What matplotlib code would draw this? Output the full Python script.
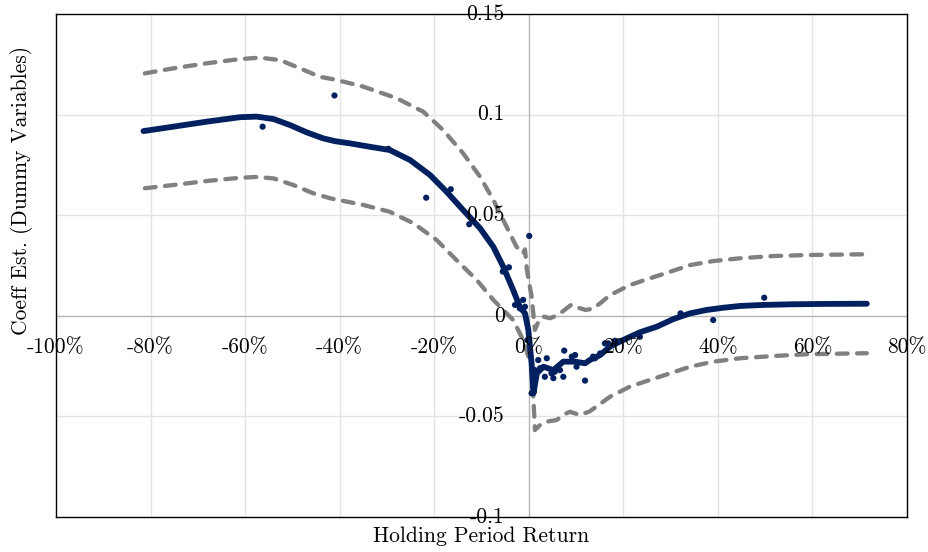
import matplotlib
matplotlib.use("Agg")
import matplotlib.pyplot as plt
from matplotlib.transforms import offset_copy

# ---- data (x in %, y = coefficient estimate) ----
fit_x = [-81.5, -75.2, -68.1, -61.1, -57.6, -54.0, -50.5, -47.0, -43.5, -41.0, -37.8,
         -33.6, -29.4, -25.1, -20.9, -17.4, -13.9, -10.3, -7.5, -5.4, -3.3, -1.9, -0.8,
         -0.1, 0.6, 1.0, 1.7, 3.1, 5.2, 7.3, 9.8, 11.9, 12.9, 15.1, 17.2, 20.0, 23.5,
         27.1, 30.6, 34.1, 37.6, 41.1, 44.7, 49.6, 55.2, 62.3, 71.5]
fit_y = [0.0918, 0.0940, 0.0965, 0.0987, 0.0990, 0.0978, 0.0948, 0.0912, 0.0882, 0.0868,
         0.0857, 0.0840, 0.0824, 0.0774, 0.0700, 0.0617, 0.0526, 0.0435, 0.0343, 0.0244,
         0.0128, 0.0045, 0.0012, -0.0070, -0.0236, -0.0385, -0.0286, -0.0253, -0.0270,
         -0.0228, -0.0228, -0.0236, -0.0220, -0.0195, -0.0153, -0.0120, -0.0082, -0.0054,
         -0.0016, 0.0012, 0.0029, 0.0040, 0.0049, 0.0054, 0.0057, 0.0059, 0.0060]

up_x = [-81.2, -75.2, -68.1, -61.1, -56.9, -52.6, -48.4, -44.2, -40.6, -35.0, -27.9,
        -22.3, -18.1, -13.9, -10.3, -7.5, -4.7, -2.6, -1.9, -1.2, -0.8, -0.4, 0.6, 1.3,
        2.2, 3.1, 4.5, 6.2, 8.0, 9.0, 10.5, 12.0, 13.5, 15.1, 17.2, 21.4, 25.6, 29.9,
        34.1, 39.0, 44.7, 51.7, 58.8, 71.5]
up_y = [0.1205, 0.1230, 0.1255, 0.1276, 0.1283, 0.1271, 0.1230, 0.1188, 0.1172, 0.1139,
        0.1081, 0.1014, 0.0923, 0.0808, 0.0691, 0.0576, 0.0443, 0.0343, 0.0327, 0.0310,
        0.0330, 0.0228, 0.0095, -0.0070, -0.0020, -0.0004, -0.0012, 0.0004, 0.0037,
        0.0055, 0.0040, 0.0029, 0.0035, 0.0062, 0.0103, 0.0153, 0.0186, 0.0219, 0.0252,
        0.0272, 0.0286, 0.0297, 0.0302, 0.0306]

lo_x = [-81.2, -75.2, -68.1, -61.1, -57.6, -54.0, -49.8, -45.6, -42.0, -35.0, -29.4,
        -24.4, -19.5, -15.3, -11.0, -7.5, -3.3, -1.2, 0.6, 1.0, 1.3, 2.5, 3.8, 5.9, 7.5,
        8.7, 10.8, 12.9, 17.2, 21.4, 25.6, 29.9, 34.1, 39.0, 44.7, 51.7, 58.8, 71.5]
lo_y = [0.0634, 0.0650, 0.0670, 0.0686, 0.0690, 0.0683, 0.0650, 0.0609, 0.0584, 0.0551,
        0.0517, 0.0460, 0.0377, 0.0277, 0.0178, 0.0079, -0.0021, -0.0120, -0.0253, -0.0418,
        -0.0568, -0.0540, -0.0526, -0.0518, -0.0490, -0.0477, -0.0493, -0.0475, -0.0402,
        -0.0352, -0.0319, -0.0286, -0.0253, -0.0228, -0.0211, -0.0200, -0.0191, -0.0186]

sc_x = [-56.3, -41.1, -29.7, -21.7, -16.5, -12.6, -5.5, -4.2, -2.9, -1.9, -1.2, -0.8,
        -0.3, 0.1, 0.6, 1.0, 1.3, 2.0, 2.4, 3.4, 3.8, 4.8, 5.2, 5.5, 6.6, 7.3, 7.5, 9.1,
        9.8, 10.1, 11.9, 13.6, 14.0, 15.1, 16.1, 16.8, 18.2, 23.5, 32.1, 39.0, 49.8]
sc_y = [0.0940, 0.1095, 0.0830, 0.0587, 0.0629, 0.0455, 0.0220, 0.0241, 0.0054, 0.0037,
        0.0079, 0.0045, -0.0120, 0.0397, -0.0385, -0.0352, -0.0270, -0.0220, -0.0260,
        -0.0303, -0.0211, -0.0286, -0.0310, -0.0278, -0.0270, -0.0303, -0.0173, -0.0203,
        -0.0195, -0.0253, -0.0322, -0.0203, -0.0211, -0.0187, -0.0137, -0.0137, -0.0124,
        -0.0104, 0.0012, -0.0021, 0.0090]

x_ticks = [-100, -80, -60, -40, -20, 0, 20, 40, 60, 80]
x_tick_labels = ["-100%", "-80%", "-60%", "-40%", "-20%", "0%", "20%", "40%", "60%", "80%"]
y_ticks = [-0.1, -0.05, 0, 0.05, 0.1, 0.15]
y_tick_labels = ["-0.1", "-0.05", "0", "0.05", "0.1", "0.15"]

NAVY = "#002060"
GRAY = "#808080"
FONT = "cmr10"
FS = 15.5

fig = plt.figure(figsize=(9.29, 5.52), dpi=100)
ax = fig.add_axes([56 / 929, 1 - 517 / 552, 851 / 929, 503 / 552])
ax.set_xlim(-100, 80)
ax.set_ylim(-0.1, 0.15)

# grid
for xv in x_ticks[1:-1]:
    if xv != 0:
        ax.axvline(xv, color="#e3e3e3", lw=1.0, zorder=0)
for yv in y_ticks[1:-1]:
    if yv != 0:
        ax.axhline(yv, color="#e3e3e3", lw=1.0, zorder=0)
ax.axvline(0, color="#b5b5b5", lw=1.0, zorder=1)
ax.axhline(0, color="#b5b5b5", lw=1.0, zorder=1)

ax.set_xticks([])
ax.set_yticks([])
for s in ax.spines.values():
    s.set_linewidth(1.0)
    s.set_color("black")

# series
ax.plot(up_x, up_y, color=GRAY, lw=3.1, dashes=(2.5, 2.2), dash_capstyle="round",
        dash_joinstyle="round", zorder=2)
ax.plot(lo_x, lo_y, color=GRAY, lw=3.1, dashes=(2.5, 2.2), dash_capstyle="round",
        dash_joinstyle="round", zorder=2)
ax.plot(fit_x, fit_y, color=NAVY, lw=4.2, solid_capstyle="round",
        solid_joinstyle="round", zorder=3)
ax.scatter(sc_x, sc_y, s=20, color=NAVY, edgecolors="none", zorder=4)

# tick labels (axis lines in the middle)
tx = offset_copy(ax.transData, fig=fig, x=0, y=-32, units="dots")
for xv, lab in zip(x_ticks, x_tick_labels):
    ax.text(xv, 0, lab, transform=tx, ha="center", va="center", fontsize=FS,
            family=FONT, zorder=6, clip_on=False)
ty = offset_copy(ax.transData, fig=fig, x=-24, y=0, units="dots")
for yv, lab in zip(y_ticks, y_tick_labels):
    ax.text(0, yv, lab, transform=ty, ha="right", va="center", fontsize=FS,
            family=FONT, zorder=6, clip_on=False)

fig.text(481.5 / 929, 1 - 536 / 552, "Holding Period Return", ha="center", va="center",
         fontsize=FS, family=FONT)
fig.text(22 / 929, 1 - 190 / 552, "Coeff Est. (Dummy Variables)", ha="center",
         va="center", rotation=90, fontsize=FS, family=FONT)

fig.savefig("out.png", dpi=100)
